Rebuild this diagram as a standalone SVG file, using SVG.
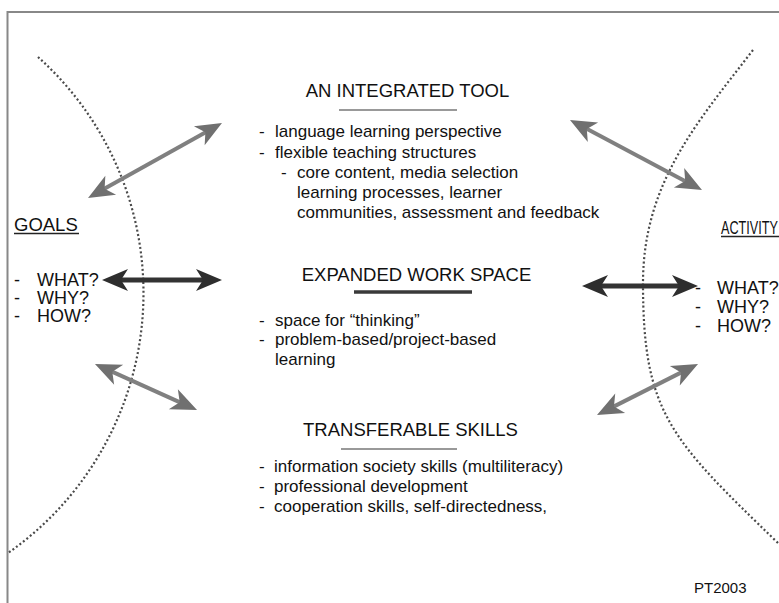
<svg xmlns="http://www.w3.org/2000/svg" width="779" height="603" viewBox="0 0 779 603">
<style>
text{font-family:"Liberation Sans",Arial,sans-serif;fill:#111}
.t{font-size:18.5px;text-anchor:middle}
.b{font-size:17px}
.s{font-size:18px}
.arc{fill:none;stroke:#4a4a4a;stroke-width:2.2;stroke-dasharray:2 2.4}
.la{stroke:#808080;stroke-width:4;fill:none;marker-start:url(#hl);marker-end:url(#hl)}
.da{stroke:#333;stroke-width:5;fill:none;marker-start:url(#hd);marker-end:url(#hd)}
</style>
<defs>
<marker id="hl" viewBox="-15 -12 28 24" refX="0" refY="0" markerWidth="28" markerHeight="24" markerUnits="userSpaceOnUse" orient="auto-start-reverse">
<path d="M12,0 L-14,-11 L-7,0 L-14,11 Z" fill="#707070"/>
</marker>
<marker id="hd" viewBox="-15 -12 28 24" refX="0" refY="0" markerWidth="28" markerHeight="24" markerUnits="userSpaceOnUse" orient="auto-start-reverse">
<path d="M12,0 L-14,-11 L-7,0 L-14,11 Z" fill="#2e2e2e"/>
</marker>
</defs>
<rect width="779" height="603" fill="#fff"/>
<g id="frame" stroke="#888" stroke-width="2" fill="none">
<path d="M7.5,603 V12 H779"/>
</g>
<g id="boundaries">
<path class="arc" d="M38,57 A317,317 0 0 1 8,553"/>
<path class="arc" d="M753,50 C698,121.5 643,183 643,283 C643,413 670.2,438.8 778,543"/>
</g>
<g id="connectors">
<line class="la" x1="98.5" y1="192.1" x2="211.5" y2="128.9"/>
<line class="da" x1="114" y1="280" x2="210" y2="280"/>
<line class="la" x1="105.9" y1="368.9" x2="186.1" y2="405.1"/>
<line class="la" x1="580.6" y1="125.6" x2="691.4" y2="184.4"/>
<line class="da" x1="594" y1="286" x2="686" y2="286"/>
<line class="la" x1="607.7" y1="409.6" x2="687.3" y2="369.4"/>
</g>
<g id="integrated-tool">
<text class="t" x="407.5" y="97">AN INTEGRATED TOOL</text>
<line x1="339" y1="110" x2="457" y2="110" stroke="#999" stroke-width="2.2"/>
<text class="b" x="259" y="137">-</text><text class="b" x="275" y="137">language learning perspective</text>
<text class="b" x="259" y="157.5">-</text><text class="b" x="275" y="157.5">flexible teaching structures</text>
<text class="b" x="281" y="178">-</text><text class="b" x="297" y="178">core content, media selection</text>
<text class="b" x="297" y="198">learning processes, learner</text>
<text class="b" x="297" y="218">communities, assessment and feedback</text>
</g>
<g id="expanded-work-space">
<text class="t" x="416.5" y="281">EXPANDED WORK SPACE</text>
<line x1="354" y1="292" x2="472" y2="292" stroke="#3a3a3a" stroke-width="3.5"/>
<text class="b" x="259" y="325.5">-</text><text class="b" x="275" y="325.5">space for “thinking”</text>
<text class="b" x="259" y="345">-</text><text class="b" x="275" y="345">problem-based/project-based</text>
<text class="b" x="275" y="364.5">learning</text>
</g>
<g id="transferable-skills">
<text class="t" x="410.5" y="436">TRANSFERABLE SKILLS</text>
<line x1="341" y1="449" x2="457" y2="449" stroke="#999" stroke-width="2.2"/>
<text class="b" x="259" y="472">-</text><text class="b" x="274" y="472">information society skills (multiliteracy)</text>
<text class="b" x="259" y="492">-</text><text class="b" x="274" y="492">professional development</text>
<text class="b" x="259" y="512">-</text><text class="b" x="274" y="512">cooperation skills, self-directedness,</text>
</g>
<g id="goals">
<text class="s" x="14" y="231" style="font-size:18.5px">GOALS</text>
<line x1="14" y1="233.5" x2="79" y2="233.5" stroke="#222" stroke-width="1.3"/>
<text class="s" x="14" y="286">-</text><text class="s" x="37" y="286">WHAT?</text>
<text class="s" x="14" y="304">-</text><text class="s" x="37" y="304">WHY?</text>
<text class="s" x="14" y="322">-</text><text class="s" x="37" y="322">HOW?</text>
</g>
<g id="activity">
<text class="s" x="721" y="234" textLength="57" lengthAdjust="spacingAndGlyphs">ACTIVITY</text>
<line x1="721" y1="236.5" x2="779" y2="236.5" stroke="#222" stroke-width="1.3"/>
<text class="s" x="695" y="294">-</text><text class="s" x="717" y="294">WHAT?</text>
<text class="s" x="695" y="313">-</text><text class="s" x="717" y="313">WHY?</text>
<text class="s" x="695" y="332">-</text><text class="s" x="717" y="332">HOW?</text>
</g>
<g id="credit">
<text x="694" y="593" style="font-size:15px">PT2003</text>
</g>
</svg>
